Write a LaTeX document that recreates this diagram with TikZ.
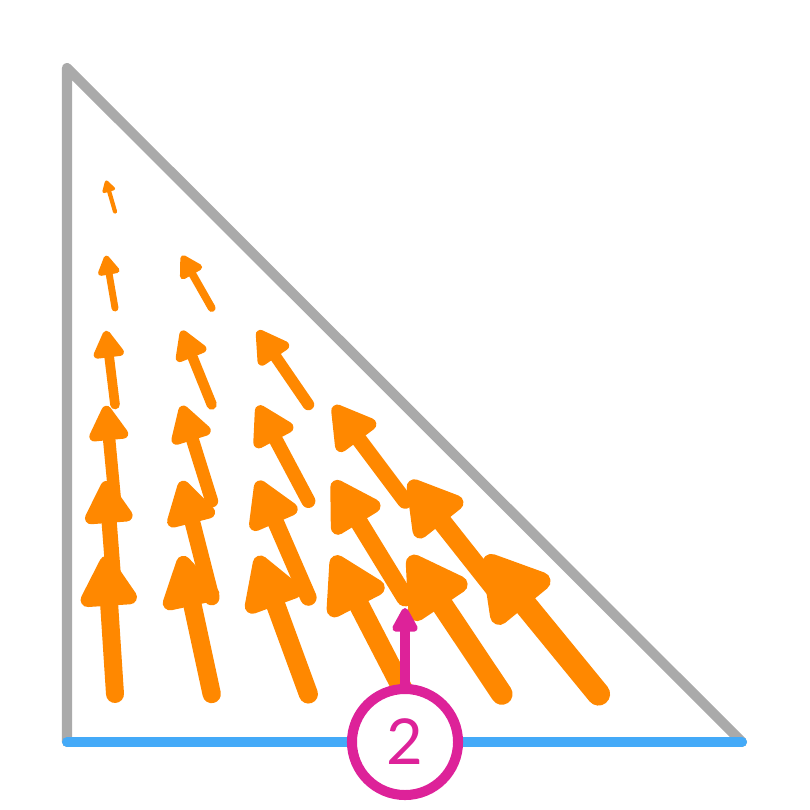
\documentclass[tikz,border=0pt]{standalone}
\usepackage{fontspec}
\setmainfont{Lato}
\usetikzlibrary{arrows.meta}
\definecolor{edgegray}{HTML}{AAAAAA}
\definecolor{edgeblue}{HTML}{44AAF8}
\definecolor{fieldorange}{HTML}{FF8800}
\definecolor{markpink}{HTML}{DD2299}
\tikzset{
  edge/.style={edgegray, line width=2.85pt, line join=round, line cap=round},
  base/.style={edgeblue, line width=2.85pt, line cap=round},
  vec/.style={fieldorange, line cap=round, -{Triangle[round,length=0pt 3.2,width=0pt 3.5]}},
  badge/.style={circle, draw=markpink, fill=white, line width=2.85pt, inner sep=0pt,
    minimum size=1.06cm, text=markpink, font=\fontsize{18}{20}\selectfont},
  pointer/.style={markpink, line width=2.85pt, -{Triangle[round,length=0pt 2.8,width=0pt 2.8]}}
}
\begin{document}
\begin{tikzpicture}[x=0.01cm,y=-0.01cm]
\useasboundingbox (0,0) rectangle (810,810);
\coordinate (top) at (67,68);
\coordinate (corner) at (67,742);
\coordinate (right) at (742,742);
\draw[edge] (right) -- (top) -- (corner);
\draw[base] (corner) -- (right);

\foreach \j in {0,...,5}{
  \pgfmathtruncatemacro\last{5-\j}
  \foreach \i in {0,...,\last}{
    \pgfmathsetmacro\tx{115+96.7*\i}
    \pgfmathsetmacro\ty{694-96.5*\j}
    \pgfmathsetmacro\dx{-(9+20.8*\i)}
    \pgfmathsetmacro\dy{-(138-21.4*\j)}
    \pgfmathsetmacro\lw{0.13*veclen(\dx,\dy)*0.2845}
    \draw[vec,line width=\lw pt] (\tx,\ty) -- ++(\dx,\dy);
  }
}

\node[badge] (two) at (405,742) {2};
\coordinate (tip) at (405,608);
\draw[pointer] (two.north) -- (tip);
\end{tikzpicture}
\end{document}
